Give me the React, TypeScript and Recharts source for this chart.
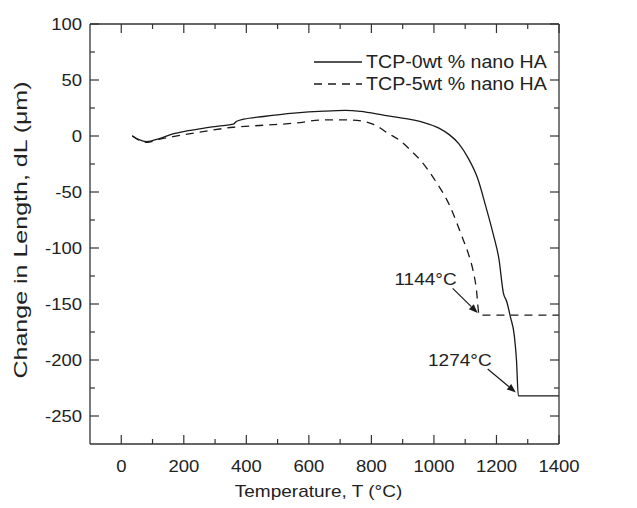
import React from 'react';
import { LineChart, Line, XAxis, YAxis, Legend, ReferenceLine, Label } from 'recharts';

// ---- data ----
const tcp0Temp = [35, 55, 82, 120, 165, 210, 261, 310, 358, 368, 392, 455, 552, 649, 716, 765, 842, 920, 968, 1016, 1050, 1080, 1110, 1140, 1165, 1190, 1208, 1222, 1233, 1245, 1257, 1264, 1270, 1400];
const tcp0Len = [0.3, -3, -5, -2.5, 1.8, 4.5, 6.9, 8.8, 10.5, 12.9, 15, 17.4, 20.4, 22.2, 22.8, 22, 18.5, 15, 12, 7, 1, -7, -20, -38, -62, -88, -110, -140, -148, -162, -178, -200, -232, -232];

const tcp5Temp = [35, 55, 82, 120, 165, 261, 358, 455, 552, 649, 726, 774, 800, 823, 850, 891, 930, 958, 1000, 1050, 1090, 1110, 1125, 1135, 1145, 1400];
const tcp5Len = [0, -3.5, -5.7, -3, -0.6, 3.9, 7.8, 9.6, 11.4, 14.4, 14.4, 13, 11, 8, 3, -4, -14, -22, -38, -62, -90, -105, -120, -135, -160, -160];

const seriesNames = ['TCP-0wt % nano HA', 'TCP-5wt % nano HA'];

const xDomain = [-100, 1400];
const yDomain = [-275, 100];
const xTickValues = [0, 100, 200, 300, 400, 500, 600, 700, 800, 900, 1000, 1100, 1200, 1300, 1400];
const yTickValues = [-250, -225, -200, -175, -150, -125, -100, -75, -50, -25, 0, 25, 50, 75, 100];
const xMajorStep = 200;
const yMajorStep = 50;

const xTitle = 'Temperature, T (°C)';
const yTitle = 'Change in Length, dL (μm)';

const annotations = [
  { text: '1144°C', from: { x: 1060, y: -136 }, to: { x: 1140, y: -158 } },
  { text: '1274°C', from: { x: 1172, y: -208 }, to: { x: 1262, y: -229 } },
];

// ---- styles ----
const FONT = '"Liberation Sans", Arial, Helvetica, sans-serif';
const AXIS = '#333333';
const INK = '#1a1a1a';
const TXT = '#222222';
const SX = 1.12; // horizontal stretch of the reference lettering
const MAJOR = 9;
const MINOR = 5;

const tcp0Data = tcp0Temp.map((t, i) => ({ t, v: tcp0Len[i] }));
const tcp5Data = tcp5Temp.map((t, i) => ({ t, v: tcp5Len[i] }));

const isMajor = (v: number, step: number) => Math.abs(v % step) < 1e-9;

const Txt = ({ x, y, anchor = 'start', size = 16, children }: any) => (
  <text
    transform={`translate(${x} ${y}) scale(${SX} 1)`}
    textAnchor={anchor}
    fontSize={size}
    fontFamily={FONT}
    fill={TXT}
  >
    {children}
  </text>
);

const BottomTick = (props: any) => {
  const { x, y, payload } = props;
  const major = isMajor(payload.value, xMajorStep);
  return (
    <g>
      <line x1={x} x2={x} y1={y} y2={y - (major ? MAJOR : MINOR)} stroke={AXIS} strokeWidth={1.2} />
      {major && (
        <Txt x={x} y={y + 28} anchor="middle" size={16.5}>
          {payload.value}
        </Txt>
      )}
    </g>
  );
};

const TopTick = (props: any) => {
  const { x, y, payload } = props;
  const major = isMajor(payload.value, xMajorStep);
  return <line x1={x} x2={x} y1={y} y2={y + (major ? MAJOR : MINOR)} stroke={AXIS} strokeWidth={1.2} />;
};

const LeftTick = (props: any) => {
  const { x, y, payload } = props;
  const major = isMajor(payload.value, yMajorStep);
  return (
    <g>
      <line x1={x} x2={x + (major ? MAJOR : MINOR)} y1={y} y2={y} stroke={AXIS} strokeWidth={1.2} />
      {major && (
        <Txt x={x - 8} y={y + 6} anchor="end" size={16.5}>
          {payload.value}
        </Txt>
      )}
    </g>
  );
};

const RightTick = (props: any) => {
  const { x, y, payload } = props;
  const major = isMajor(payload.value, yMajorStep);
  return <line x1={x} x2={x - (major ? MAJOR : MINOR)} y1={y} y2={y} stroke={AXIS} strokeWidth={1.2} />;
};

const arrowShape = (text: string) => (p: any) => {
  const { x1, y1, x2, y2 } = p;
  const ang = Math.atan2(y2 - y1, x2 - x1);
  const L = 9;
  const W = 3.5;
  const bx = x2 - L * Math.cos(ang);
  const by = y2 - L * Math.sin(ang);
  const pts = `${x2},${y2} ${bx + W * Math.sin(ang)},${by - W * Math.cos(ang)} ${bx - W * Math.sin(ang)},${by + W * Math.cos(ang)}`;
  return (
    <g>
      <line x1={x1} y1={y1} x2={bx} y2={by} stroke={INK} strokeWidth={1.2} />
      <polygon points={pts} fill={INK} />
      <Txt x={x1 + 4} y={y1 - 3} anchor="end" size={17}>
        {text}
      </Txt>
    </g>
  );
};

const LegendContent = () => (
  <div style={{ fontFamily: FONT, fontSize: 17.5, color: TXT }}>
    {seriesNames.map((name, i) => (
      <div key={name} style={{ display: 'flex', alignItems: 'center', height: 22, whiteSpace: 'nowrap' }}>
        <svg width={52} height={22} style={{ display: 'block' }}>
          <line x1={0} x2={48} y1={11} y2={11} stroke={INK} strokeWidth={1.3} strokeDasharray={i === 1 ? '8 6' : undefined} />
        </svg>
        <span style={{ lineHeight: '22px', display: 'inline-block', transform: `scaleX(${SX})`, transformOrigin: 'left center' }}>{name}</span>
      </div>
    ))}
  </div>
);

export default function App() {
  return (
    <div style={{ width: 629, height: 500 }}>
      <LineChart width={629} height={500} margin={{ top: 15, right: 77, bottom: 0, left: 0 }}>
        <XAxis
          xAxisId={0}
          dataKey="t"
          type="number"
          domain={xDomain}
          ticks={xTickValues}
          height={64}
          tickSize={0}
          tickMargin={0}
          tickLine={false}
          tick={<BottomTick />}
          axisLine={{ stroke: AXIS, strokeWidth: 1.3 }}
          interval={0}
        >
          <Label
            content={(p: any) => {
              const vb = p.viewBox;
              return (
                <Txt x={vb.x + vb.width / 2 - 6} y={vb.y + 53} anchor="middle" size={17}>
                  {xTitle}
                </Txt>
              );
            }}
          />
        </XAxis>
        <XAxis
          xAxisId="top"
          orientation="top"
          dataKey="t"
          type="number"
          domain={xDomain}
          ticks={xTickValues}
          height={1}
          tickSize={0}
          tickMargin={0}
          tickLine={false}
          tick={<TopTick />}
          axisLine={{ stroke: AXIS, strokeWidth: 1.3 }}
          interval={0}
        />
        <YAxis
          yAxisId={0}
          type="number"
          domain={yDomain}
          ticks={yTickValues}
          width={82}
          tickSize={0}
          tickMargin={0}
          tickLine={false}
          tick={<LeftTick />}
          axisLine={{ stroke: AXIS, strokeWidth: 1.3 }}
          interval={0}
        >
          <Label
            content={(p: any) => {
              const vb = p.viewBox;
              const cx = vb.x + 13;
              const cy = vb.y + vb.height / 2 - 4;
              return (
                <text
                  transform={`translate(${cx} ${cy}) rotate(-90) scale(1.43 1)`}
                  textAnchor="middle"
                  dominantBaseline="central"
                  fontSize={17.5}
                  fontFamily={FONT}
                  fill={TXT}
                >
                  {yTitle}
                </text>
              );
            }}
          />
        </YAxis>
        <YAxis
          yAxisId="right"
          orientation="right"
          type="number"
          domain={yDomain}
          ticks={yTickValues}
          width={1}
          tickSize={0}
          tickMargin={0}
          tickLine={false}
          tick={<RightTick />}
          axisLine={{ stroke: AXIS, strokeWidth: 1.3 }}
          interval={0}
        />
        <Legend
          layout="vertical"
          align="center"
          verticalAlign="middle"
          content={<LegendContent />}
          wrapperStyle={{ top: 43, left: 306, width: 'auto' }}
        />
        <Line
          data={tcp0Data}
          dataKey="v"
          name={seriesNames[0]}
          type="monotone"
          stroke={INK}
          strokeWidth={1.3}
          dot={false}
          activeDot={false}
          isAnimationActive={false}
        />
        <Line
          xAxisId="top"
          yAxisId="right"
          data={tcp5Data}
          dataKey="v"
          name={seriesNames[1]}
          type="monotone"
          stroke={INK}
          strokeWidth={1.3}
          strokeDasharray="8 6"
          dot={false}
          activeDot={false}
          isAnimationActive={false}
        />
        {annotations.map((a) => (
          <ReferenceLine key={a.text} segment={[a.from, a.to]} shape={arrowShape(a.text)} />
        ))}
      </LineChart>
    </div>
  );
}
